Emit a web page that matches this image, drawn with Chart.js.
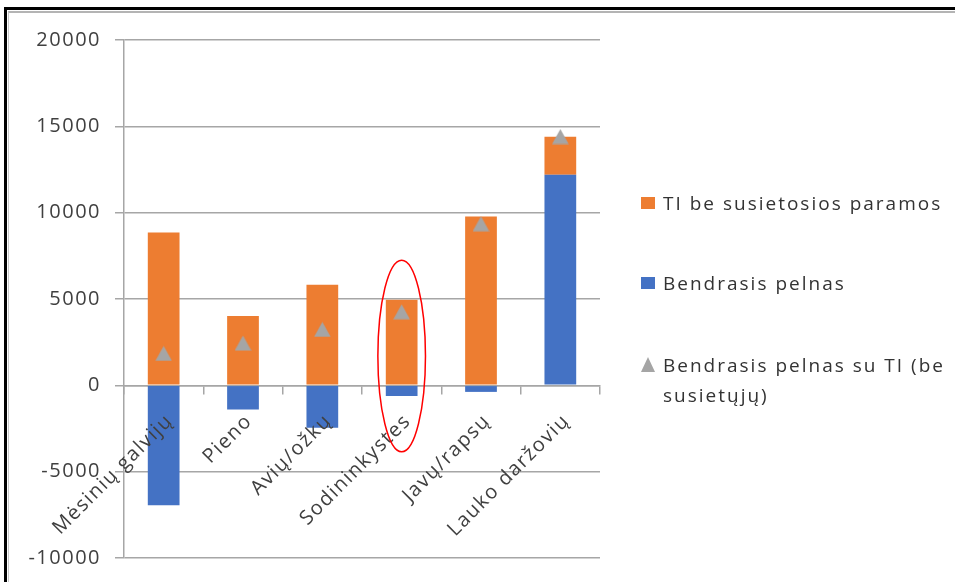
<!DOCTYPE html>
<html>
<head>
<meta charset="utf-8">
<script src="https://cdn.jsdelivr.net/npm/chart.js@4.4.1/dist/chart.umd.min.js"></script>
<style>
  html, body { margin:0; padding:0; background:#fff; }
  #wrap { position:relative; width:955px; height:582px; overflow:hidden; }
  #frameOuter { position:absolute; left:4px; top:7px; right:-10px; bottom:-10px; border-top:3px solid #000; border-left:3px solid #000; }
  #frameInner { position:absolute; left:8px; top:11px; right:-10px; bottom:-10px; border-top:2px solid #b4b4b4; border-left:1px solid #c8c8c8; }
  #c { position:absolute; left:0; top:0; }
  #legend { position:absolute; left:641px; top:0; width:310px; font-family:"Open Sans", sans-serif; font-size:19px; letter-spacing:2px; color:#333; }
  .item { position:absolute; left:0; width:305px; line-height:30px; }
  .item .txt { position:absolute; left:22px; top:0; width:285px; }
  .box { position:absolute; left:0; width:14px; height:12px; }
  .tri { position:absolute; left:0; width:0; height:0; border-left:7.5px solid transparent; border-right:7.5px solid transparent; border-bottom:15px solid #a5a5a5; }
</style>
</head>
<body>
<div id="wrap">
  <div id="frameOuter"></div>
  <div id="frameInner"></div>
  <canvas id="c" width="955" height="582"></canvas>
  <div id="legend"></div>
</div>
<script>
// ---- data ----
const categories = ["Mėsinių galvijų", "Pieno", "Avių/ožkų", "Sodininkystes", "Javų/rapsų", "Lauko daržovių"];
const profitValues = [-6950, -1400, -2460, -620, -380, 12200];   // Bendrasis pelnas
const tiValues = [8850, 4010, 5830, 4960, 9780, 2200];            // TI be susietosios paramos
const profitWithTI = [1850, 2450, 3240, 4260, 9360, 14410];       // Bendrasis pelnas su TI (be susietųjų)
const seriesNames = ["Bendrasis pelnas", "TI be susietosios paramos", "Bendrasis pelnas su TI (be susietųjų)"];
const yMin = -10000, yMax = 20000, yStep = 5000;
const highlightIndex = 3;
const highlightRange = [7250, -3850];

// triangle marker image (centered in its box, like the original)
const triCanvas = document.createElement('canvas');
triCanvas.width = 17; triCanvas.height = 16;
(function(){
  const g = triCanvas.getContext('2d');
  g.fillStyle = '#a5a5a5';
  g.beginPath(); g.moveTo(8.5, 0.5); g.lineTo(16.8, 15.5); g.lineTo(0.2, 15.5); g.closePath(); g.fill();
})();

const spacingPlugin = {
  id: 'spacing',
  beforeLayout(chart) { chart.ctx.letterSpacing = '1.5px'; },
  beforeDraw(chart) { chart.ctx.letterSpacing = '1.5px'; }
};

const ellipsePlugin = {
  id: 'ellipse',
  afterDraw(chart) {
    const xs = chart.scales.x, ys = chart.scales.y, ctx = chart.ctx;
    const cx = xs.getPixelForValue(highlightIndex);
    const cw = xs.width / categories.length;
    const yT = ys.getPixelForValue(highlightRange[0]);
    const yB = ys.getPixelForValue(highlightRange[1]);
    ctx.save();
    ctx.strokeStyle = '#ff0000';
    ctx.lineWidth = 1.5;
    ctx.beginPath();
    ctx.ellipse(cx, (yT + yB) / 2, cw * 0.3, (yB - yT) / 2, 0, 0, Math.PI * 2);
    ctx.stroke();
    ctx.restore();
  }
};

const gridColor = '#a6a6a6';
const tickFont = { family: '"Open Sans", sans-serif', size: 20 };
const noPad = s => { s.paddingLeft = 0; s.paddingRight = 0; s.paddingTop = 0; s.paddingBottom = 0; };

const chart = new Chart(document.getElementById('c'), {
  type: 'bar',
  data: {
    labels: categories,
    datasets: [
      { type: 'bar', label: seriesNames[0], data: profitValues, backgroundColor: '#4472c4', order: 1, stack: 'bars',
        categoryPercentage: 1, barPercentage: 0.4 },
      { type: 'bar', label: seriesNames[1], data: tiValues, backgroundColor: '#ed7d31', order: 1, stack: 'bars',
        categoryPercentage: 1, barPercentage: 0.4 },
      { type: 'line', label: seriesNames[2], data: profitWithTI, showLine: false, order: 0, stack: 'markers',
        pointStyle: triCanvas, pointRadius: 8, pointHoverRadius: 8, backgroundColor: '#a5a5a5', borderColor: '#a5a5a5' }
    ]
  },
  options: {
    responsive: false,
    animation: false,
    devicePixelRatio: 1,
    layout: { padding: { left: 0, top: 40, right: 355, bottom: 24 } },
    plugins: { legend: { display: false }, tooltip: { enabled: false } },
    scales: {
      x: {
        stacked: true,
        position: { y: 0 },
        offset: true,
        grid: { display: true, drawOnChartArea: false, drawTicks: true, tickLength: 8, color: gridColor, lineWidth: 1.5, offset: true },
        border: { display: true, color: gridColor, width: 1.5 },
        ticks: { z: 1, minRotation: 45, maxRotation: 45, autoSkip: false, color: '#404040', font: tickFont, padding: 16, labelOffset: 6 },
        afterFit: noPad
      },
      y: {
        stacked: true,
        min: yMin, max: yMax,
        ticks: { stepSize: yStep, color: '#404040', font: tickFont, padding: 14, callback: v => String(v) },
        grid: { color: gridColor, lineWidth: 1.5, tickLength: 9, drawTicks: true },
        border: { display: true, color: gridColor, width: 1.5 },
        afterFit(s) { s.width = 124; noPad(s); }
      }
    }
  },
  plugins: [spacingPlugin, ellipsePlugin]
});

// HTML legend built from chart datasets
(function(){
  const legend = document.getElementById('legend');
  const ordered = [1, 0, 2];
  const tops = [188, 268, 350];
  ordered.forEach((di, k) => {
    const ds = chart.data.datasets[di];
    const item = document.createElement('div');
    item.className = 'item';
    item.style.top = tops[k] + 'px';
    const mark = document.createElement('div');
    if (ds.type === 'line') {
      mark.className = 'tri';
      mark.style.top = '7px';
    } else {
      mark.className = 'box';
      mark.style.background = ds.backgroundColor;
      mark.style.top = '9px';
    }
    const txt = document.createElement('div');
    txt.className = 'txt';
    txt.textContent = ds.label;
    item.appendChild(mark);
    item.appendChild(txt);
    legend.appendChild(item);
  });
})();
</script>
</body>
</html>
